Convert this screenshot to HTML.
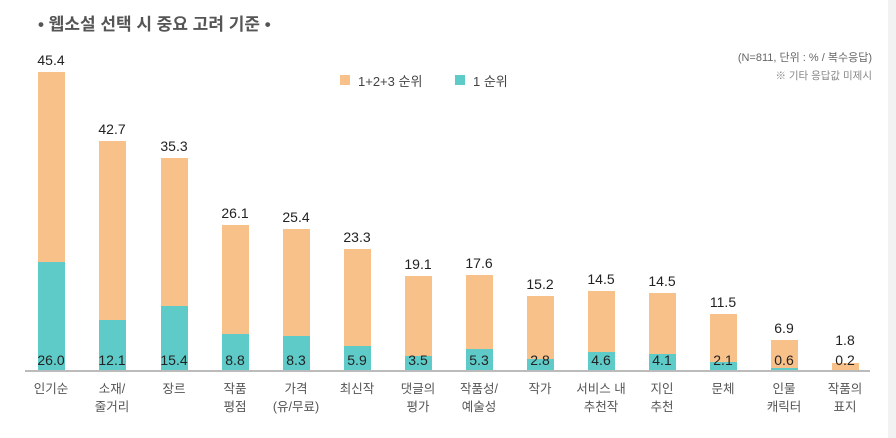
<!DOCTYPE html><html><head><meta charset="utf-8"><style>
body{margin:0;width:896px;height:438px;background:#fff;position:relative;overflow:hidden;font-family:"Liberation Sans","Noto Sans CJK KR",sans-serif}
.a{position:absolute}
.o{position:absolute;background:#f9c18a;width:27px}
.c{position:absolute;background:#5ecbc9;width:27px}
.v{position:absolute;width:60px;text-align:center;font-size:14px;color:#222;line-height:16px}
.l{position:absolute;width:80px;text-align:center;font-size:12.5px;color:#555;line-height:18px}
</style></head><body>
<div class="a" style="left:38px;top:10px;font-size:17px;font-weight:bold;color:#555">• 웹소설 선택 시 중요 고려 기준 •</div>
<div class="a" style="right:24px;top:49px;font-size:11px;color:#666">(N=811, 단위 : % / 복수응답)</div>
<div class="a" style="right:24px;top:68px;font-size:10.5px;color:#888">※ 기타 응답값 미제시</div>
<div class="a" style="left:340px;top:75px;width:10px;height:10px;background:#f9c18a"></div>
<div class="a" style="left:358px;top:71px;font-size:13px;color:#444">1+2+3 순위</div>
<div class="a" style="left:455px;top:75px;width:10px;height:10px;background:#5ecbc9"></div>
<div class="a" style="left:473px;top:71px;font-size:13px;color:#444">1 순위</div>
<div class="a" style="left:888px;top:0;width:8px;height:438px;background:#f2f2f2"></div>
<div class="a" style="left:25px;top:370px;width:845px;height:2px;background:#bbb"></div>
<div id="g"></div>
<script>
var d=[[51,72,262,"45.4","26.0","인기순"],[112,141,320,"42.7","12.1","소재/<br>줄거리"],[174,158,306,"35.3","15.4","장르"],[235,225,334,"26.1","8.8","작품<br>평점"],[296,229,336,"25.4","8.3","가격<br>(유/무료)"],[357,249,346,"23.3","5.9","최신작"],[418,276,356,"19.1","3.5","댓글의<br>평가"],[479,275,349,"17.6","5.3","작품성/<br>예술성"],[540,296,359,"15.2","2.8","작가"],[601,291,352,"14.5","4.6","서비스 내<br>추천작"],[662,293,354,"14.5","4.1","지인<br>추천"],[723,314,362,"11.5","2.1","문체"],[784,340,368,"6.9","0.6","인물<br>캐릭터"],[845,363,370,"1.8","0.2","작품의<br>표지",332]];
var h="";d.forEach(function(b){var x=b[0]-13.5;var lt=b[6]!==undefined?b[6]:b[1]-20;
h+='<div class="o" style="left:'+x+'px;top:'+b[1]+'px;height:'+(370-b[1])+'px"></div>';
h+='<div class="c" style="left:'+x+'px;top:'+b[2]+'px;height:'+(370-b[2])+'px"></div>';
h+='<div class="v" style="left:'+(b[0]-30)+'px;top:'+lt+'px">'+b[3]+'</div>';
h+='<div class="v" style="left:'+(b[0]-30)+'px;top:352px">'+b[4]+'</div>';
h+='<div class="l" style="left:'+(b[0]-40)+'px;top:380px">'+b[5]+'</div>';});
document.getElementById("g").innerHTML=h;
</script>
</body></html>
